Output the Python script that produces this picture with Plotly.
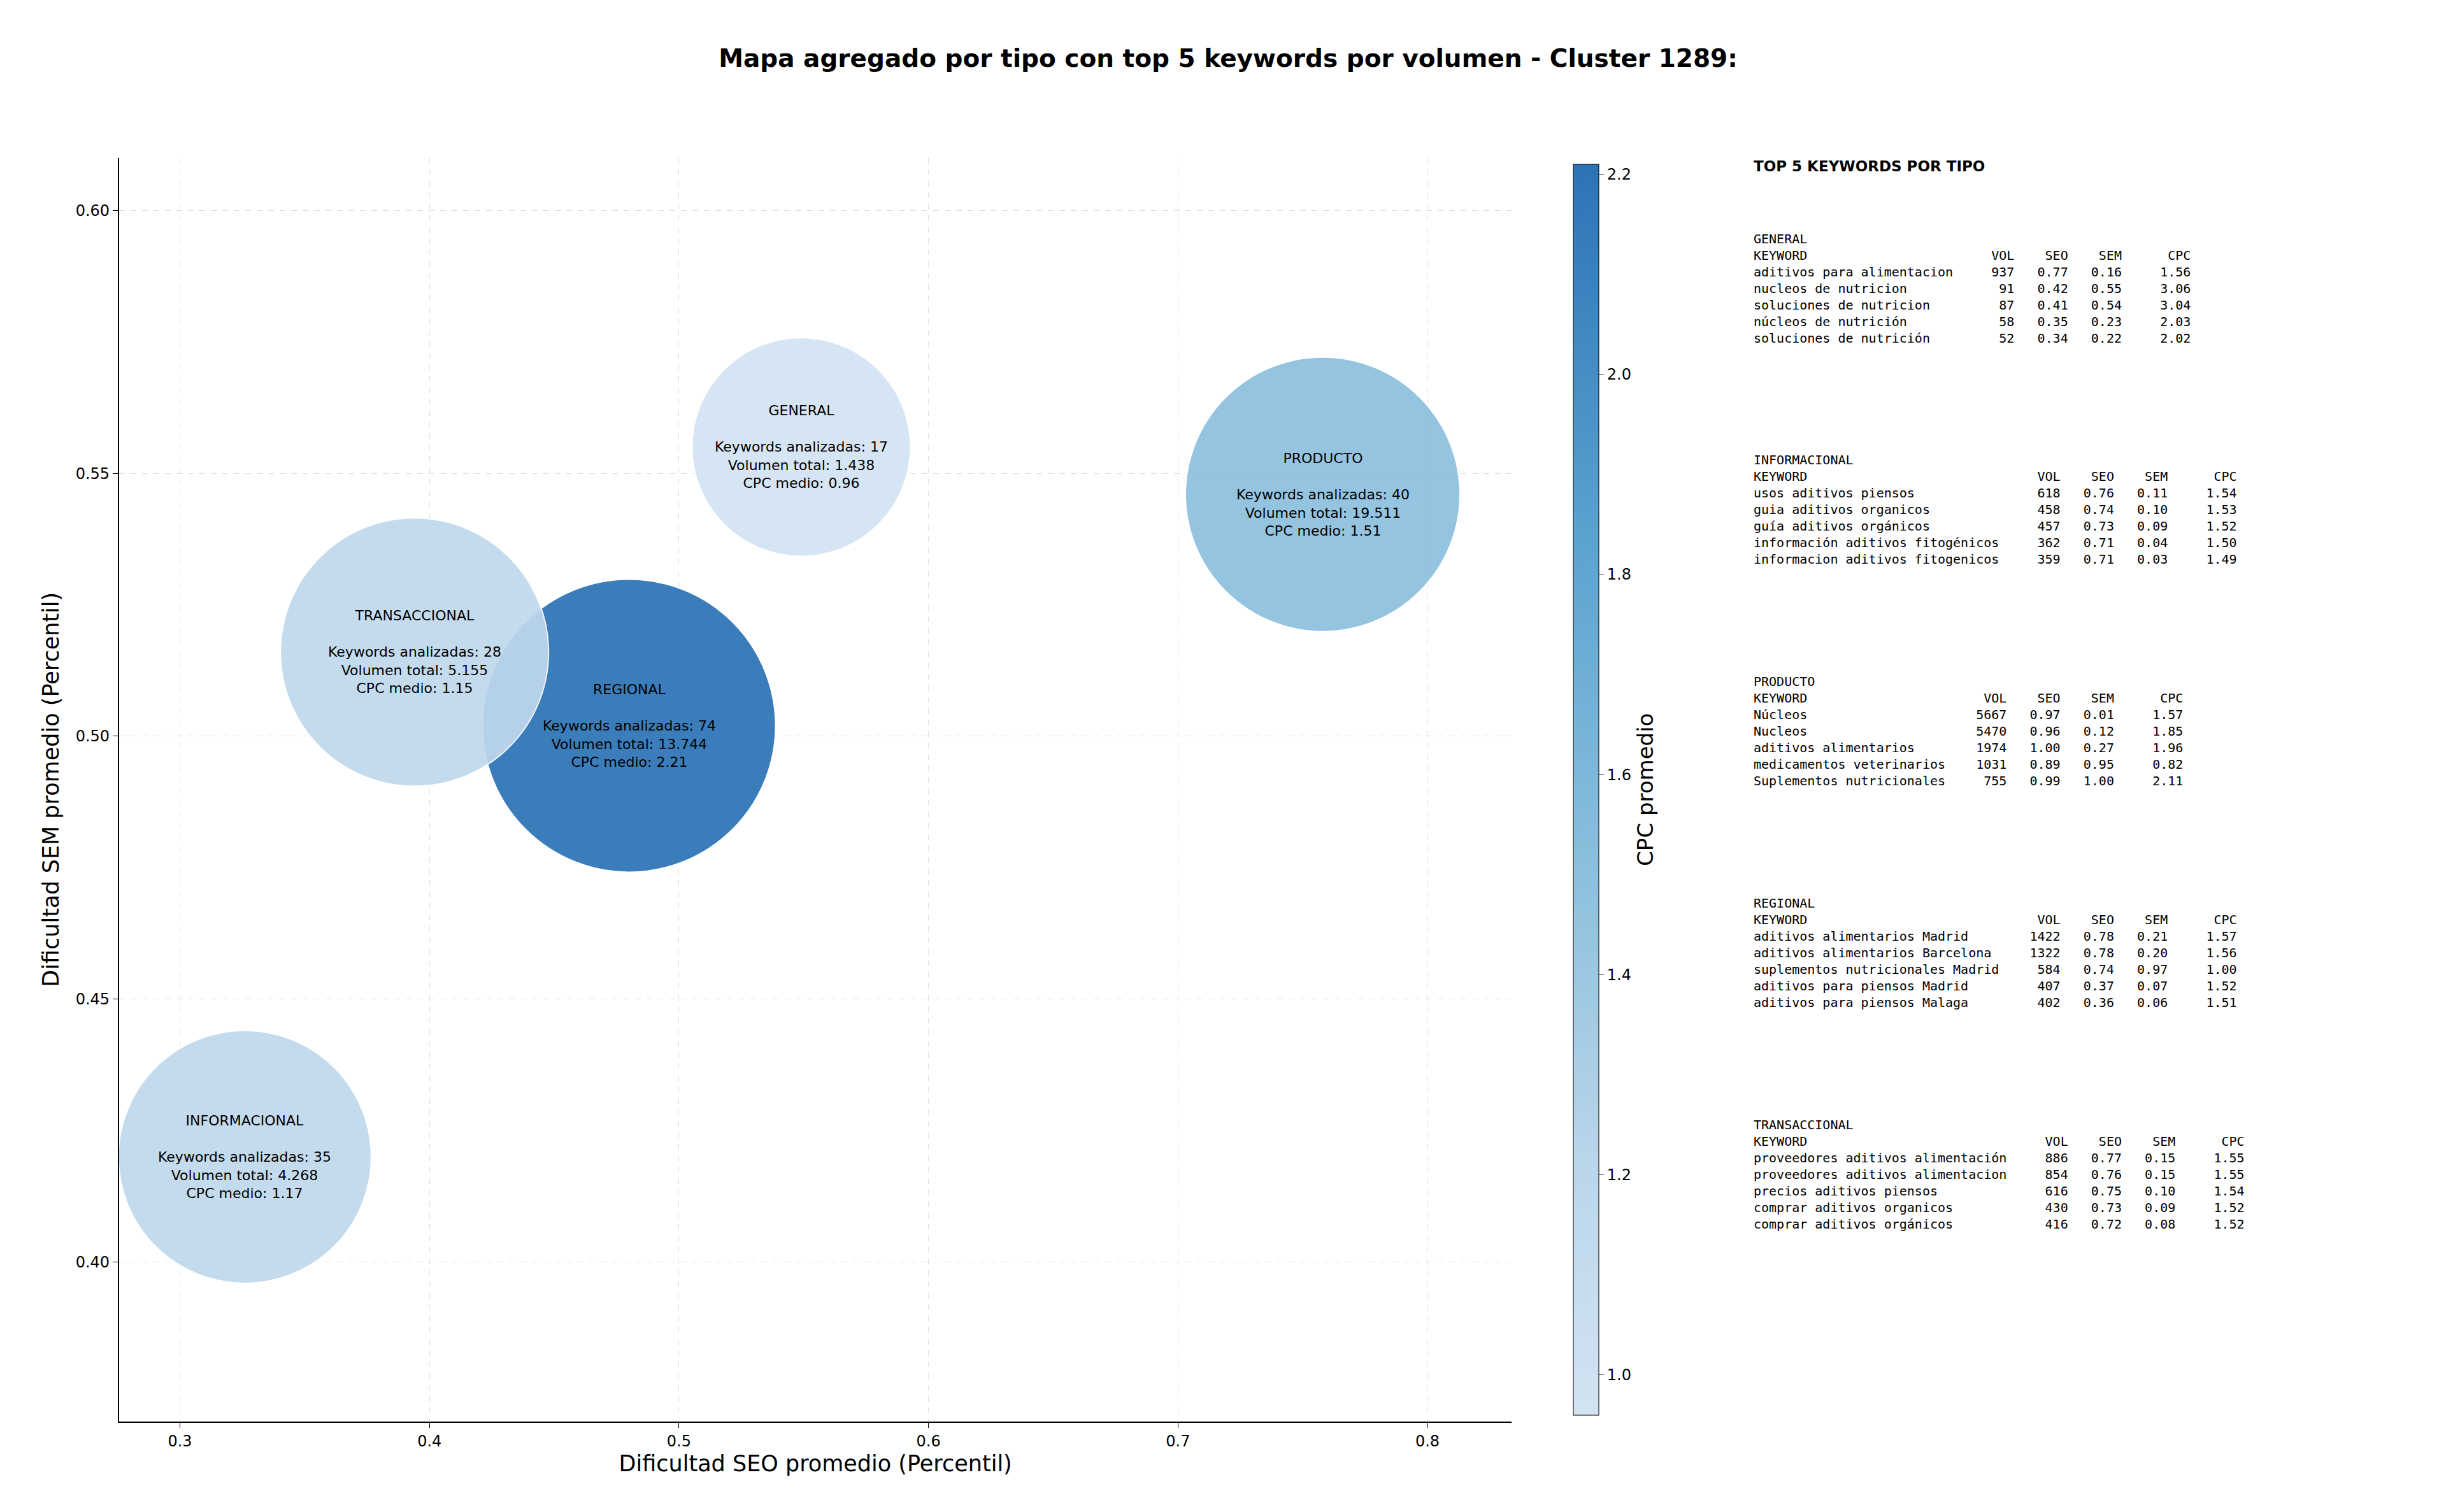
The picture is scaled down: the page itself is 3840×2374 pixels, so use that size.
import plotly.graph_objects as go

tipos = ["GENERAL", "INFORMACIONAL", "PRODUCTO", "REGIONAL", "TRANSACCIONAL"]
seo_medio = [0.549, 0.326, 0.758, 0.480, 0.394]
sem_medio = [0.555, 0.420, 0.546, 0.502, 0.516]
n_keywords = [17, 35, 40, 74, 28]
volumen_total = ["1.438", "4.268", "19.511", "13.744", "5.155"]
cpc_medio = [0.96, 1.17, 1.51, 2.21, 1.15]

top_keywords = {
    "GENERAL": [
        ("aditivos para alimentacion", 937, 0.77, 0.16, 1.56),
        ("nucleos de nutricion", 91, 0.42, 0.55, 3.06),
        ("soluciones de nutricion", 87, 0.41, 0.54, 3.04),
        ("núcleos de nutrición", 58, 0.35, 0.23, 2.03),
        ("soluciones de nutrición", 52, 0.34, 0.22, 2.02),
    ],
    "INFORMACIONAL": [
        ("usos aditivos piensos", 618, 0.76, 0.11, 1.54),
        ("guia aditivos organicos", 458, 0.74, 0.10, 1.53),
        ("guía aditivos orgánicos", 457, 0.73, 0.09, 1.52),
        ("información aditivos fitogénicos", 362, 0.71, 0.04, 1.50),
        ("informacion aditivos fitogenicos", 359, 0.71, 0.03, 1.49),
    ],
    "PRODUCTO": [
        ("Núcleos", 5667, 0.97, 0.01, 1.57),
        ("Nucleos", 5470, 0.96, 0.12, 1.85),
        ("aditivos alimentarios", 1974, 1.00, 0.27, 1.96),
        ("medicamentos veterinarios", 1031, 0.89, 0.95, 0.82),
        ("Suplementos nutricionales", 755, 0.99, 1.00, 2.11),
    ],
    "REGIONAL": [
        ("aditivos alimentarios Madrid", 1422, 0.78, 0.21, 1.57),
        ("aditivos alimentarios Barcelona", 1322, 0.78, 0.20, 1.56),
        ("suplementos nutricionales Madrid", 584, 0.74, 0.97, 1.00),
        ("aditivos para piensos Madrid", 407, 0.37, 0.07, 1.52),
        ("aditivos para piensos Malaga", 402, 0.36, 0.06, 1.51),
    ],
    "TRANSACCIONAL": [
        ("proveedores aditivos alimentación", 886, 0.77, 0.15, 1.55),
        ("proveedores aditivos alimentacion", 854, 0.76, 0.15, 1.55),
        ("precios aditivos piensos", 616, 0.75, 0.10, 1.54),
        ("comprar aditivos organicos", 430, 0.73, 0.09, 1.52),
        ("comprar aditivos orgánicos", 416, 0.72, 0.08, 1.52),
    ],
}

# style: bubble diameters in px
bubble_px = [343, 397, 431, 460, 421]
blues_part = [[0.0, "#d3e3f3"], [0.2, "#bad6eb"], [0.45, "#89bedc"],
              [0.7, "#5ba3d0"], [1.0, "#2b73b5"]]

fig = go.Figure()
fig.add_trace(go.Scatter(
    x=seo_medio, y=sem_medio, mode="markers",
    marker=dict(size=bubble_px, sizemode="diameter", color=cpc_medio,
                colorscale=blues_part, cmin=0.96, cmax=2.21, opacity=0.92,
                line=dict(color="white", width=2),
                colorbar=dict(x=0.6385, xanchor="left", y=0.0633, yanchor="bottom",
                              len=0.8357, lenmode="fraction", thickness=40,
                              tickvals=[1.0, 1.2, 1.4, 1.6, 1.8, 2.0, 2.2],
                              ticktext=["1.0", "1.2", "1.4", "1.6", "1.8", "2.0", "2.2"],
                              tickfont=dict(size=24), ticks="outside", ticklen=8,
                              outlinewidth=1, outlinecolor="black",
                              title=dict(text="CPC promedio", side="right", font=dict(size=34)))),
    showlegend=False, hoverinfo="skip"))

for t, x, y, n, v, c in zip(tipos, seo_medio, sem_medio, n_keywords, volumen_total, cpc_medio):
    fig.add_annotation(x=x, y=y, xref="x", yref="y", showarrow=False,
                       text=f"{t}<br><br>Keywords analizadas: {n}<br>Volumen total: {v}<br>CPC medio: {c:.2f}",
                       font=dict(size=22, color="black", family="DejaVu Sans"), align="center")

fig.add_annotation(x=0.7143, y=1 - 97/969.4, xref="paper", yref="paper", xanchor="left", yanchor="top",
                   showarrow=False, text="<b>TOP 5 KEYWORDS POR TIPO</b>",
                   font=dict(size=23, family="DejaVu Sans", color="black"))

block_tops = [144, 286, 428, 570, 712]
for t, top in zip(tipos, block_tops):
    rows = top_keywords[t]
    w = max(len(r[0]) for r in rows)
    lines = [t, f"{'KEYWORD':<{w}}{'VOL':>8}{'SEO':>7}{'SEM':>7}{'CPC':>9}"]
    for kw, vol, seo, sem, cpc in rows:
        lines.append(f"{kw:<{w}}{vol:>8}{seo:>7.2f}{sem:>7.2f}{cpc:>9.2f}")
    txt = "<br>".join(l.replace(" ", "\u00a0") for l in lines)
    fig.add_annotation(x=0.7143, y=1 - top/969.4, xref="paper", yref="paper", xanchor="left", yanchor="top",
                       showarrow=False, align="left", text=txt,
                       font=dict(size=20, family="DejaVu Sans Mono", color="black"))

axis_common = dict(showline=True, linecolor="black", linewidth=2, ticks="outside", ticklen=8,
                   tickcolor="black", tickfont=dict(size=24, color="black"),
                   showgrid=True, gridcolor="rgba(0,0,0,0.12)", griddash="dash", gridwidth=1,
                   zeroline=False, mirror=False)
fig.update_xaxes(range=[0.2756, 0.8338], domain=[0.0466, 0.616], tickvals=[0.3, 0.4, 0.5, 0.6, 0.7, 0.8],
                 ticktext=["0.3", "0.4", "0.5", "0.6", "0.7", "0.8"],
                 title=dict(text="Dificultad SEO promedio (Percentil)", font=dict(size=35), standoff=10),
                 **axis_common)
fig.update_yaxes(range=[0.3697, 0.610], domain=[0.0633, 0.899], tickvals=[0.40, 0.45, 0.50, 0.55, 0.60],
                 ticktext=["0.40", "0.45", "0.50", "0.55", "0.60"],
                 title=dict(text="Dificultad SEM promedio (Percentil)", font=dict(size=35), standoff=15),
                 **axis_common)

fig.update_layout(
    width=3840, height=2374, plot_bgcolor="white", paper_bgcolor="white",
    margin=dict(l=0, r=0, t=0, b=0),
    font=dict(family="DejaVu Sans", color="black"),
    title=dict(text="<b>Mapa agregado por tipo con top 5 keywords por volumen - Cluster 1289:</b>",
               x=0.5, xanchor="center", y=1 - 34/969.4, yanchor="middle", font=dict(size=39)),
)
fig.write_html("out.html")
